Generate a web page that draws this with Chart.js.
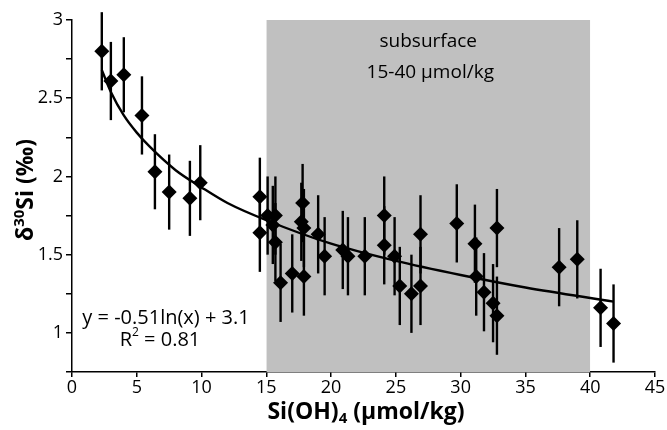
<!DOCTYPE html>
<html>
<head>
<meta charset="utf-8">
<script src="https://cdn.jsdelivr.net/npm/chart.js@4/dist/chart.umd.min.js"></script>
<style>
  html, body { margin: 0; padding: 0; background: #fff; }
  #wrap { width: 667px; height: 430px; position: relative; }
</style>
</head>
<body>
<div id="wrap"><canvas id="chart"></canvas></div>
<script>
// Si(OH)4 (µmol/kg) vs d30Si
const siOH4 = [2.3, 3.0, 4.0, 5.4, 6.4, 7.5, 9.1, 9.9, 14.5, 14.5, 15.1, 15.5, 15.7, 15.7, 16.1, 17.0,
  17.7, 17.8, 17.9, 17.9, 19.0, 19.5, 20.9, 21.3, 22.6, 24.1, 24.1, 24.9, 25.3, 26.2, 26.9, 26.9,
  29.7, 31.1, 31.2, 31.8, 32.5, 32.8, 32.8, 37.6, 39.0, 40.8, 41.8];
const d30Si = [2.80, 2.61, 2.65, 2.39, 2.03, 1.90, 1.86, 1.96, 1.87, 1.64, 1.75, 1.69, 1.75, 1.58, 1.32, 1.38,
  1.71, 1.83, 1.67, 1.36, 1.63, 1.49, 1.53, 1.49, 1.49, 1.75, 1.56, 1.49, 1.30, 1.25, 1.30, 1.63,
  1.70, 1.57, 1.36, 1.26, 1.19, 1.11, 1.67, 1.42, 1.47, 1.16, 1.06];
const errSi = [0.25, 0.25, 0.24, 0.25, 0.24, 0.24, 0.24, 0.24, 0.25, 0.25, 0.25, 0.25, 0.25, 0.25, 0.25, 0.25,
  0.25, 0.25, 0.25, 0.25, 0.25, 0.25, 0.25, 0.25, 0.25, 0.25, 0.25, 0.25, 0.25, 0.25, 0.25, 0.25,
  0.25, 0.25, 0.25, 0.25, 0.25, 0.25, 0.25, 0.25, 0.25, 0.25, 0.25];

// fitted curve y = -0.51ln(x) + 3.1
const fitX = [2.3, 3, 4, 5, 6, 8, 10, 12, 15, 20, 25, 30, 35, 41.8];
const fitY = [2.68, 2.54, 2.39, 2.28, 2.19, 2.04, 1.93, 1.83, 1.72, 1.57, 1.46, 1.37, 1.29, 1.20];

// subsurface band 15-40 µmol/kg
const bandX = [15, 40];
const bandY = [3, 3];

const xTicks = [0, 5, 10, 15, 20, 25, 30, 35, 40, 45];

const FONT = "'Open Sans', 'Noto Sans', sans-serif";

const points = siOH4.map((x, i) => ({ x: x, y: d30Si[i], err: errSi[i] }));

// vertical error bars
const errorBars = {
  id: "errorBars",
  beforeDatasetDraw(chart, args) {
    if (args.index !== 0) return;
    const ctx = chart.ctx;
    const xs = chart.scales.x, ys = chart.scales.y;
    ctx.save();
    ctx.strokeStyle = "#000";
    ctx.lineWidth = 2.4;
    points.forEach((p) => {
      const px = xs.getPixelForValue(p.x);
      ctx.beginPath();
      ctx.moveTo(px, ys.getPixelForValue(p.y + p.err));
      ctx.lineTo(px, ys.getPixelForValue(p.y - p.err));
      ctx.stroke();
    });
    ctx.restore();
  }
};

// text labels, axis titles with super/subscripts
const labels = {
  id: "labels",
  afterDraw(chart) {
    const ctx = chart.ctx;
    const xs = chart.scales.x;
    ctx.save();
    ctx.fillStyle = "#000";
    ctx.textBaseline = "middle";
    ctx.textAlign = "center";
    ctx.font = "19px " + FONT;
    const cx = xs.getPixelForValue(27.5);
    ctx.fillText("subsurface", cx, 42);
    ctx.fillText("15-40 µmol/kg", cx + 2, 73);

    ctx.font = "20px " + FONT;
    ctx.fillText("y = -0.51ln(x) + 3.1", 166, 318);
    // R² = 0.81
    ctx.textAlign = "left";
    const r1 = "R", r2 = " = 0.81";
    const w1 = ctx.measureText(r1).width;
    ctx.font = "12px " + FONT;
    const ws = ctx.measureText("2").width;
    ctx.font = "20px " + FONT;
    const w2 = ctx.measureText(r2).width;
    let sx = 160 - (w1 + ws + w2) / 2;
    ctx.fillText(r1, sx, 340);
    ctx.font = "12px " + FONT;
    ctx.fillText("2", sx + w1, 333);
    ctx.font = "20px " + FONT;
    ctx.fillText(r2, sx + w1 + ws, 340);

    // x title: Si(OH)4 (µmol/kg)
    const bold = "bold 23px " + FONT, boldSub = "bold 15px " + FONT;
    ctx.font = bold;
    const a = "Si(OH)", b = " (µmol/kg)";
    const wa = ctx.measureText(a).width, wb = ctx.measureText(b).width;
    ctx.font = boldSub;
    const w4 = ctx.measureText("4").width;
    sx = 366 - (wa + w4 + wb) / 2;
    ctx.font = bold;
    ctx.fillText(a, sx, 412);
    ctx.font = boldSub;
    ctx.fillText("4", sx + wa, 419);
    ctx.font = bold;
    ctx.fillText(b, sx + wa + w4, 412);

    // y title: δ30Si (‰), rotated
    ctx.translate(26, 190);
    ctx.rotate(-Math.PI / 2);
    const c = "δ", d = "Si (‰)";
    ctx.font = bold;
    const wc = ctx.measureText(c).width, wd = ctx.measureText(d).width;
    ctx.font = boldSub;
    const w30 = ctx.measureText("30").width;
    sx = -(wc + w30 + wd) / 2;
    ctx.font = bold;
    ctx.fillText(c, sx, 0);
    ctx.font = boldSub;
    ctx.fillText("30", sx + wc, -6);
    ctx.font = bold;
    ctx.fillText(d, sx + wc + w30, 0);
    ctx.restore();
  }
};

new Chart(document.getElementById("chart"), {
  type: "scatter",
  data: {
    datasets: [
      {
        label: "samples",
        data: points,
        pointStyle: "rectRot",
        pointRadius: 7.5,
        pointBackgroundColor: "#000",
        pointBorderColor: "#000",
        pointBorderWidth: 0,
        order: 1
      },
      {
        label: "fit",
        type: "line",
        data: fitX.map((x, i) => ({ x: x, y: fitY[i] })),
        borderColor: "#000",
        borderWidth: 2.4,
        pointRadius: 0,
        cubicInterpolationMode: "monotone",
        fill: false,
        order: 2
      },
      {
        label: "subsurface",
        type: "line",
        data: bandX.map((x, i) => ({ x: x, y: bandY[i] })),
        borderWidth: 0,
        borderColor: "rgba(0,0,0,0)",
        backgroundColor: "#c0c0c0",
        pointRadius: 0,
        fill: "start",
        order: 3
      }
    ]
  },
  options: {
    responsive: true,
    maintainAspectRatio: false,
    animation: false,
    layout: { padding: { top: 20, right: 12, left: 0, bottom: 0 } },
    plugins: {
      legend: { display: false },
      tooltip: { enabled: false }
    },
    scales: {
      x: {
        type: "linear",
        min: 0,
        max: 45,
        afterBuildTicks: (scale) => { scale.ticks = xTicks.map((v) => ({ value: v })); },
        afterFit: (scale) => { scale.height = 58; },
        grid: { drawOnChartArea: false, drawTicks: true, tickLength: 5, color: "#000", lineWidth: 1.5 },
        border: { display: true, color: "#000", width: 1.5 },
        ticks: { color: "#000", font: { family: FONT, size: 18 }, padding: 0, maxRotation: 0 }
      },
      y: {
        type: "linear",
        min: 0.75,
        max: 3,
        afterFit: (scale) => { scale.width = 72; },
        grid: { drawOnChartArea: false, drawTicks: true, tickLength: 6, color: "#000", lineWidth: 1.5 },
        border: { display: true, color: "#000", width: 1.5 },
        ticks: {
          stepSize: 0.25,
          color: "#000",
          font: { family: FONT, size: 18 },
          padding: 3,
          callback: (v) => (Math.abs(v * 2 - Math.round(v * 2)) < 1e-6 ? String(v) : "")
        }
      }
    }
  },
  plugins: [errorBars, labels]
});
</script>
</body>
</html>
